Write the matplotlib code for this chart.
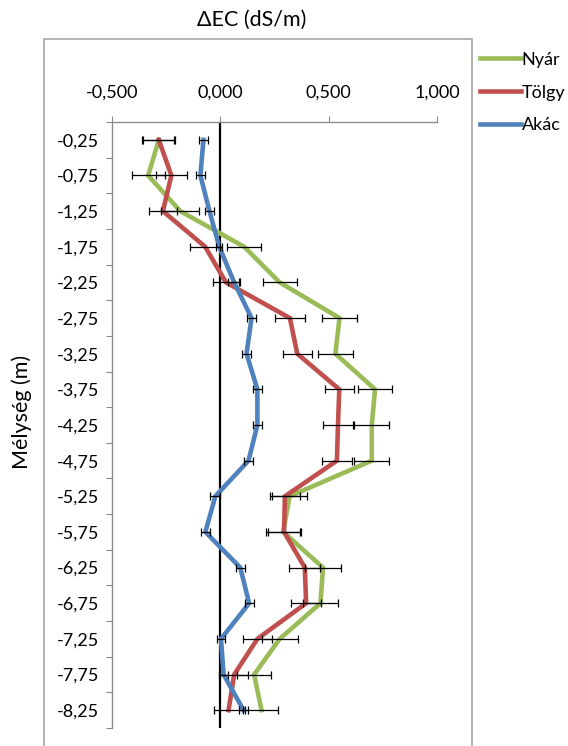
import numpy as np
import matplotlib
matplotlib.use("Agg")
import matplotlib.pyplot as plt
from matplotlib.patches import Rectangle
from matplotlib.lines import Line2D

plt.rcParams['font.family'] = ['Lato', 'DejaVu Sans']

depth_labels = ['-0,25', '-0,75', '-1,25', '-1,75', '-2,25', '-2,75', '-3,25', '-3,75',
                '-4,25', '-4,75', '-5,25', '-5,75', '-6,25', '-6,75', '-7,25', '-7,75', '-8,25']

nyar = [-0.284, -0.333, -0.185, 0.110, 0.274, 0.550, 0.531, 0.714, 0.699, 0.699,
        0.320, 0.290, 0.474, 0.462, 0.274, 0.156, 0.190]
tolgy = [-0.284, -0.226, -0.265, -0.070, 0.026, 0.321, 0.355, 0.549, 0.543, 0.538,
         0.298, 0.294, 0.390, 0.396, 0.171, 0.064, 0.038]
akac = [-0.078, -0.092, -0.050, -0.005, 0.064, 0.144, 0.121, 0.171, 0.171, 0.130,
        -0.023, -0.069, 0.092, 0.133, 0.003, 0.015, 0.107]

nyar_err = [0.076, 0.076, 0.087, 0.077, 0.078, 0.081, 0.080, 0.080, 0.081, 0.081,
            0.081, 0.080, 0.083, 0.080, 0.084, 0.077, 0.077]
tolgy_err = [0.072, 0.070, 0.065, 0.070, 0.061, 0.070, 0.067, 0.068, 0.070, 0.068,
             0.069, 0.075, 0.072, 0.070, 0.066, 0.065, 0.065]
akac_err = [0.019, 0.021, 0.022, 0.015, 0.028, 0.020, 0.021, 0.021, 0.021, 0.021,
            0.023, 0.021, 0.020, 0.021, 0.020, 0.020, 0.020]

x_ticks = [-0.5, 0.0, 0.5, 1.0]
x_ticklabels = ['-0,500', '0,000', '0,500', '1,000']

series = [('Nyár', nyar, nyar_err, '#9BBB59'),
          ('Tölgy', tolgy, tolgy_err, '#C0504D'),
          ('Akác', akac, akac_err, '#4F81BD')]

W, H = 568, 746
fig = plt.figure(figsize=(W / 100, H / 100), dpi=100)
fig.patch.set_facecolor('white')

ax_l, ax_r, ax_t, ax_b = 112, 437, 122, 728
ax = fig.add_axes([ax_l / W, 1 - ax_b / H, (ax_r - ax_l) / W, (ax_b - ax_t) / H])

ypos = np.arange(len(depth_labels))
grey = '#8c8c8c'

ax.axvline(0, color='black', lw=1.6, zorder=2)

for name, vals, err, col in series:
    ax.plot(vals, ypos, color=col, lw=3.3, solid_joinstyle='miter', zorder=3, label=name)
for name, vals, err, col in series:
    ax.errorbar(vals, ypos, xerr=err, fmt='none', ecolor='black', elinewidth=0.9,
                capsize=3, capthick=0.9, zorder=4)

ax.set_xlim(-0.5, 1.0)
ax.set_ylim(len(depth_labels) - 0.5, -0.5)

for s in ['right', 'bottom']:
    ax.spines[s].set_visible(False)
for s in ['top', 'left']:
    ax.spines[s].set_color(grey)
    ax.spines[s].set_linewidth(1.0)

ax.xaxis.tick_top()
ax.set_xticks(x_ticks)
ax.set_xticklabels(x_ticklabels)
ax.tick_params(axis='x', which='major', direction='out', length=4, color=grey,
               labelsize=13, pad=11.5, labelcolor='black')

ax.set_yticks(np.arange(-0.5, len(depth_labels), 1.0))
ax.set_yticklabels([])
ax.set_yticks(ypos, minor=True)
ax.set_yticklabels(depth_labels, minor=True)
ax.tick_params(axis='y', which='major', direction='out', length=4, color=grey)
ax.tick_params(axis='y', which='minor', length=0, labelsize=13, pad=9.4, labelcolor='black')

# outer chart border
fig.patches.append(Rectangle((44 / W, -0.05), (472 - 44) / W, (H - 39) / H + 0.05,
                             transform=fig.transFigure, fill=False,
                             edgecolor='#a6a6a6', lw=1.2, clip_on=False))

fig.text(252 / W, 1 - 20 / H, 'ΔEC (dS/m)', ha='center', va='center', fontsize=15.5)
fig.text(22 / W, 1 - 412 / H, 'Mélység (m)', ha='center', va='center',
         rotation=90, fontsize=15.5)

handles = [Line2D([], [], color=c, lw=3.3) for _, _, _, c in series]
fig.legend(handles, [n for n, _, _, _ in series], loc='upper left',
           bbox_to_anchor=(473 / W, 1 - 44.5 / H), frameon=False, fontsize=13,
           handlelength=2.25, handletextpad=0.05, labelspacing=0.93, borderaxespad=0)

fig.savefig('out.png', dpi=100, facecolor='white')
